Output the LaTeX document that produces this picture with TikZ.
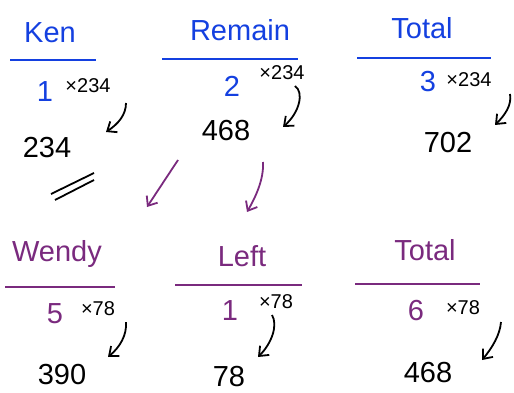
\documentclass[tikz,border=0pt]{standalone}
\usepackage{fontspec}
\setmainfont{Liberation Sans}
\usetikzlibrary{arrows.meta}
\definecolor{penblue}{HTML}{1440E0}
\definecolor{penpurple}{HTML}{7A2A7E}
\tikzset{
  head/.style={font=\fontsize{29}{29}\selectfont, inner sep=0pt},
  num/.style={font=\fontsize{29}{29}\selectfont, inner sep=0pt},
  mult/.style={font=\fontsize{20}{20}\selectfont, inner sep=0pt},
  rule/.style={line width=2pt},
  arr/.style={line width=1.8pt, -{Straight Barb[length=8pt,width=13pt,line width=1.8pt]}},
}
\begin{document}
\begin{tikzpicture}[x=1pt,y=-1pt]
\useasboundingbox (0,0) rectangle (514,393);
% ---- top row (blue) ----
\node[head, penblue] (ken) at (50,33) {Ken};
\node[head, penblue] (remain) at (240,30) {Remain};
\node[head, penblue] (total1) at (422,28) {Total};
\coordinate (kenL) at (10,60); \coordinate (kenR) at (96,60);
\coordinate (remL) at (162,59); \coordinate (remR) at (298,59);
\coordinate (totL) at (357,58); \coordinate (totR) at (491,58);
\draw[rule, penblue] (kenL) -- (kenR);
\draw[rule, penblue] (remL) -- (remR);
\draw[rule, penblue] (totL) -- (totR);

\node[num, penblue] (u1) at (45,92) {1};
\node[mult] (m1) at (88,86) {×234};
\node[num, penblue] (u2) at (232,86) {2};
\node[mult] (m2) at (282,73) {×234};
\node[num, penblue] (u3) at (428,82) {3};
\node[mult] (m3) at (469,80) {×234};

\node[num] (r1) at (47,148) {234};
\node[num] (r2) at (226,131) {468};
\node[num] (r3) at (448,143) {702};

\coordinate (a1s) at (126,103); \coordinate (a1e) at (106,132);
\coordinate (a2s) at (295,86); \coordinate (a2e) at (283,127);
\coordinate (a3s) at (510,94); \coordinate (a3e) at (495,125);
\draw[arr] (a1s) .. controls (126,115) and (118,124) .. (a1e);
\draw[arr] (a2s) .. controls (304,92) and (300,112) .. (a2e);
\draw[arr] (a3s) .. controls (512,105) and (505,115) .. (a3e);

% double slash
\coordinate (s1a) at (51,194); \coordinate (s1b) at (94,173);
\coordinate (s2a) at (55,200); \coordinate (s2b) at (94,180);
\draw[line width=1.8pt] (s1a) -- (s1b);
\draw[line width=1.8pt] (s2a) -- (s2b);

% purple arrows
\coordinate (p1s) at (178,160); \coordinate (p1e) at (147,207);
\coordinate (p2s) at (263,162); \coordinate (p2e) at (247,212);
\draw[arr, penpurple] (p1s) -- (p1e);
\draw[arr, penpurple] (p2s) .. controls (264,180) and (255,198) .. (p2e);

% ---- bottom row (purple) ----
\node[head, penpurple] (wendy) at (57,254) {Wendy};
\node[head, penpurple] (left) at (242,256) {Left};
\node[head, penpurple] (total2) at (425,250) {Total};
\coordinate (wenL) at (5,287); \coordinate (wenR) at (115,287);
\coordinate (lefL) at (175,285); \coordinate (lefR) at (302,285);
\coordinate (to2L) at (355,284); \coordinate (to2R) at (480,284);
\draw[rule, penpurple] (wenL) -- (wenR);
\draw[rule, penpurple] (lefL) -- (lefR);
\draw[rule, penpurple] (to2L) -- (to2R);

\node[num, penpurple] (w1) at (55,314) {5};
\node[mult] (wm) at (98,309) {×78};
\node[num, penpurple] (l1) at (230,311) {1};
\node[mult] (lm) at (276,302) {×78};
\node[num, penpurple] (t1) at (416,311) {6};
\node[mult] (tm) at (463,308) {×78};

\node[num] (wr) at (62,375) {390};
\node[num] (lr) at (229,377) {78};
\node[num] (tr) at (428,373) {468};

\coordinate (b1s) at (126,322); \coordinate (b1e) at (108,357);
\coordinate (b2s) at (272,315); \coordinate (b2e) at (258,357);
\coordinate (b3s) at (501,322); \coordinate (b3e) at (482,360);
\draw[arr] (b1s) .. controls (127,335) and (120,347) .. (b1e);
\draw[arr] (b2s) .. controls (278,325) and (272,343) .. (b2e);
\draw[arr] (b3s) .. controls (500,335) and (492,348) .. (b3e);
\end{tikzpicture}
\end{document}
